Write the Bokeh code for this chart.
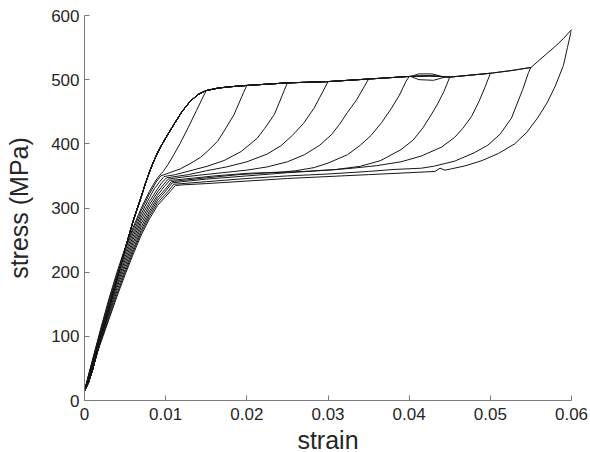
from bokeh.plotting import figure
from bokeh.models import Range1d, FixedTicker, CustomJSTickFormatter
from bokeh.embed import file_html
from bokeh.resources import INLINE

# ---- data (strain [-], stress [MPa]) ----
x_ticks = [0, 0.01, 0.02, 0.03, 0.04, 0.05, 0.06]
y_ticks = [0, 100, 200, 300, 400, 500, 600]

# common loading path (upper branch)
load_strain = [0, 0.0005, 0.001, 0.0015, 0.002, 0.003, 0.004, 0.005, 0.006, 0.007,
               0.0075, 0.008, 0.0085, 0.009, 0.0095, 0.010, 0.011, 0.012, 0.013, 0.014,
               0.015, 0.0165, 0.018, 0.02, 0.0225, 0.025, 0.0275, 0.03, 0.0325, 0.035,
               0.0375, 0.04, 0.0425, 0.045, 0.0475, 0.05, 0.0525, 0.055, 0.056, 0.057,
               0.058, 0.059, 0.06]
load_stress = [15, 28, 48, 72, 97, 143, 190, 236, 280, 318,
               338, 356, 372, 386, 398, 409, 430, 450, 466, 477,
               483, 487, 489, 491, 493, 495, 496, 497, 499, 501,
               503, 505, 506, 504, 507, 510, 514, 519, 530, 541,
               552, 564, 578]

# small lens where two loading branches separate on the upper plateau
lens_strain = [0.0402, 0.0412, 0.0428, 0.0444, 0.0430, 0.0412, 0.0402]
lens_stress = [505, 509, 509, 504, 499, 500, 505]

# maximum strain of each cycle
max_strain = [0.015, 0.02, 0.025, 0.03, 0.035, 0.04, 0.045, 0.05, 0.055, 0.06]

# unloading paths of each cycle (strain, stress)
unload_015 = [(0.0146, 473), (0.0138, 452), (0.0128, 426), (0.0118, 401), (0.011, 383),
              (0.0103, 368), (0.0097, 357), (0.009, 347), (0.0085, 337), (0.008, 326),
              (0.007, 300), (0.006, 270), (0.005, 238), (0.004, 200), (0.003, 158),
              (0.002, 112), (0.001, 64), (0.0005, 40), (0, 15)]
unload_020 = [(0.0196, 480), (0.0184, 445), (0.0172, 420), (0.0164, 404), (0.0152, 389),
              (0.0143, 379), (0.013, 369), (0.0118, 361), (0.0105, 355), (0.0094, 350),
              (0.0088, 340), (0.008, 322), (0.007, 296), (0.006, 266), (0.005, 234),
              (0.004, 196), (0.003, 155), (0.002, 110), (0.001, 63), (0.0005, 39), (0, 15)]
unload_025 = [(0.0246, 483), (0.0234, 446), (0.0222, 424), (0.0213, 409), (0.0193, 388),
              (0.0172, 374), (0.0151, 365), (0.013, 358), (0.0112, 352), (0.0098, 349),
              (0.0092, 340), (0.0086, 330), (0.008, 316), (0.007, 291), (0.006, 261),
              (0.005, 229), (0.004, 192), (0.003, 152), (0.002, 108), (0.001, 62),
              (0.0005, 38), (0, 15)]
unload_030 = [(0.0296, 487), (0.0283, 456), (0.027, 432), (0.0256, 413), (0.0242, 397),
              (0.0225, 384), (0.02, 372), (0.0175, 364), (0.015, 358), (0.0128, 352),
              (0.0101, 347), (0.0095, 339), (0.009, 330), (0.008, 310), (0.007, 286),
              (0.006, 256), (0.005, 224), (0.004, 188), (0.003, 148), (0.002, 105),
              (0.001, 60), (0.0005, 38), (0, 15)]
unload_035 = [(0.0345, 490), (0.0335, 468), (0.0324, 449), (0.0314, 430), (0.0304, 414),
              (0.029, 398), (0.0271, 383), (0.025, 372), (0.0225, 364), (0.02, 359),
              (0.017, 355), (0.014, 351), (0.012, 348), (0.0103, 345), (0.0097, 336),
              (0.009, 325), (0.008, 305), (0.007, 281), (0.006, 251), (0.005, 219),
              (0.004, 184), (0.003, 144), (0.002, 102), (0.001, 59), (0.0005, 37), (0, 15)]
unload_040 = [(0.0396, 497), (0.0388, 476), (0.0378, 455), (0.0366, 433), (0.0353, 413),
              (0.034, 398), (0.0324, 383), (0.03, 370), (0.0283, 363), (0.026, 358),
              (0.0242, 356), (0.02, 354), (0.016, 350), (0.013, 346), (0.0105, 343),
              (0.0098, 333), (0.009, 320), (0.008, 300), (0.007, 276), (0.006, 246),
              (0.005, 214), (0.004, 180), (0.003, 140), (0.002, 100), (0.001, 57),
              (0.0005, 36), (0, 15)]
unload_045 = [(0.0443, 482), (0.0435, 462), (0.0427, 445), (0.0417, 425), (0.0405, 406),
              (0.039, 391), (0.0365, 374), (0.034, 365), (0.031, 360), (0.027, 357),
              (0.023, 355), (0.019, 352), (0.015, 347), (0.012, 343), (0.0107, 341),
              (0.01, 330), (0.009, 316), (0.008, 295), (0.007, 271), (0.006, 241),
              (0.005, 209), (0.004, 176), (0.003, 136), (0.002, 97), (0.001, 56),
              (0.0005, 35), (0, 15)]
unload_050 = [(0.0494, 490), (0.0486, 466), (0.0477, 443), (0.0466, 424), (0.0456, 410),
              (0.044, 395), (0.0415, 381), (0.039, 372), (0.036, 366), (0.033, 362),
              (0.03, 359), (0.025, 355), (0.02, 350), (0.015, 345), (0.012, 341),
              (0.0108, 339), (0.0101, 328), (0.009, 312), (0.008, 291), (0.007, 266),
              (0.006, 236), (0.005, 204), (0.004, 171), (0.003, 133), (0.002, 95),
              (0.001, 55), (0.0005, 35), (0, 15)]
unload_055 = [(0.0547, 511), (0.054, 485), (0.0526, 440), (0.0512, 415), (0.0497, 398),
              (0.048, 386), (0.0456, 373), (0.043, 365), (0.0415, 362), (0.038, 360),
              (0.035, 357), (0.03, 353), (0.025, 350), (0.02, 346), (0.015, 341),
              (0.012, 338), (0.011, 337), (0.0103, 326), (0.009, 308), (0.008, 287),
              (0.007, 262), (0.006, 232), (0.005, 200), (0.004, 166), (0.003, 129),
              (0.002, 92), (0.001, 53), (0.0005, 34), (0, 15)]
unload_060 = [(0.0595, 550), (0.059, 522), (0.058, 490), (0.057, 464), (0.0558, 440),
              (0.0545, 418), (0.053, 400), (0.051, 385), (0.049, 374), (0.047, 366),
              (0.0452, 361), (0.0444, 359), (0.0438, 362), (0.0432, 357), (0.04, 355),
              (0.035, 352), (0.03, 349), (0.025, 346), (0.02, 342), (0.015, 338),
              (0.012, 336), (0.0112, 335), (0.0105, 325), (0.009, 304), (0.008, 283),
              (0.007, 258), (0.006, 228), (0.005, 196), (0.004, 162), (0.003, 126),
              (0.002, 90), (0.001, 52), (0.0005, 33), (0, 15)]

unloads = [unload_015, unload_020, unload_025, unload_030, unload_035,
           unload_040, unload_045, unload_050, unload_055, unload_060]

# ---- figure ----
p = figure(width=596, height=462, output_backend="svg", toolbar_location=None,
           x_range=Range1d(0, 0.06), y_range=Range1d(0, 600),
           min_border_left=84, min_border_right=25, min_border_top=15,
           min_border_bottom=62)
p.grid.visible = False
p.outline_line_color = None
p.background_fill_color = "white"
p.border_fill_color = "white"

line_color = "#161616"
for emax, unl in zip(max_strain, unloads):
    xs = [s for s in load_strain if s <= emax + 1e-9]
    ys = [load_stress[i] for i, s in enumerate(load_strain) if s <= emax + 1e-9]
    xs = xs + [u[0] for u in unl]
    ys = ys + [u[1] for u in unl]
    p.line(xs, ys, line_color=line_color, line_width=1.0)
p.line(lens_strain, lens_stress, line_color=line_color, line_width=1.0)

p.xaxis.ticker = FixedTicker(ticks=x_ticks)
p.yaxis.ticker = FixedTicker(ticks=y_ticks)
p.xaxis.formatter = CustomJSTickFormatter(
    code="return tick === 0 ? '0' : tick.toFixed(2);")

p.xaxis.axis_label = "strain"
p.yaxis.axis_label = "stress (MPa)"

for ax in (p.xaxis, p.yaxis):
    ax.axis_line_color = "#7a7a7a"
    ax.major_tick_line_color = "#7a7a7a"
    ax.minor_tick_line_color = None
    ax.major_tick_in = 5
    ax.major_tick_out = 0
    ax.major_label_text_font = "Liberation Sans"
    ax.major_label_text_font_size = "17px"
    ax.major_label_text_color = "#262626"
    ax.axis_label_text_font = "Liberation Sans"
    ax.axis_label_text_font_style = "normal"
    ax.axis_label_text_font_size = "25px"
    ax.axis_label_text_color = "#262626"

p.xaxis.major_label_standoff = 7
p.xaxis.axis_label_standoff = 3
p.yaxis.major_label_standoff = 5
p.yaxis.axis_label_standoff = 15

open("out.html", "w").write(file_html(p, INLINE))
